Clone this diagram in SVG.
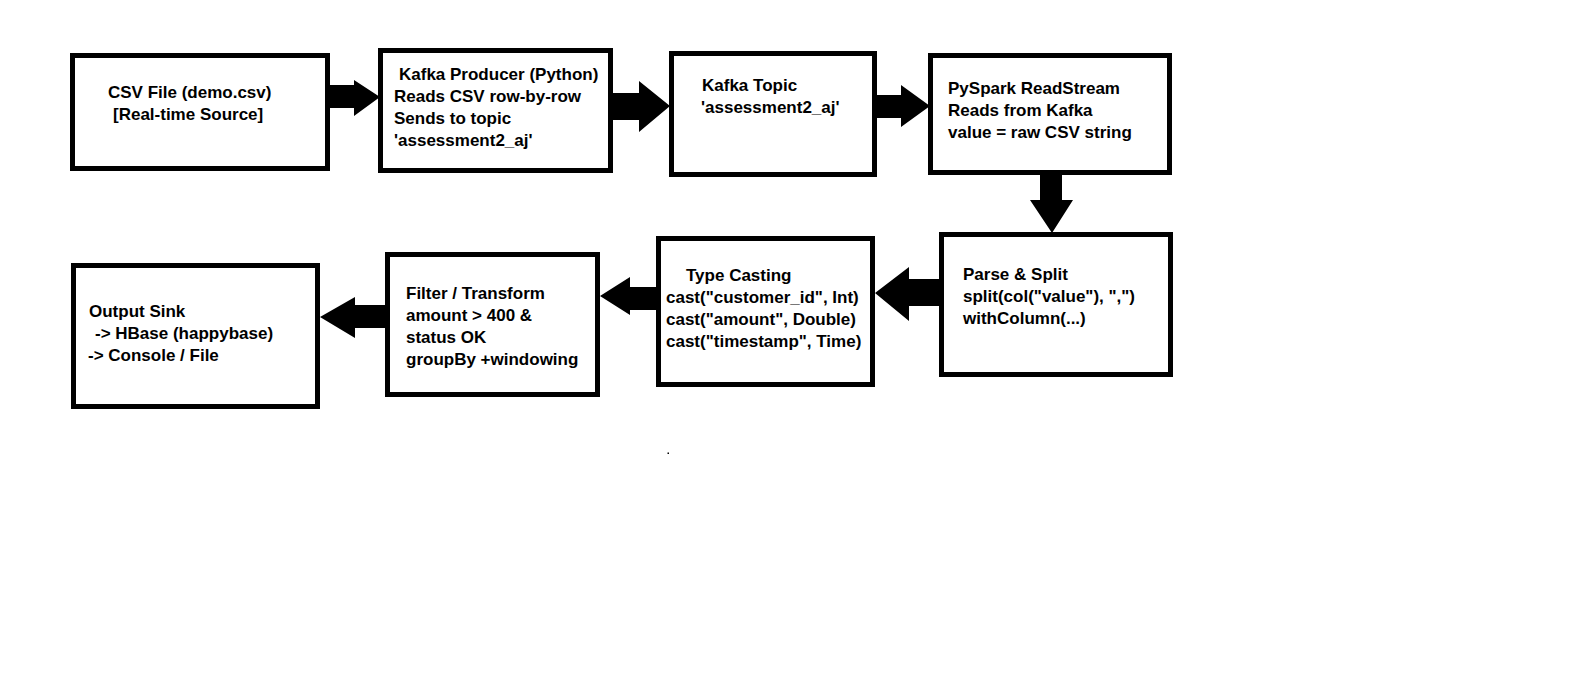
<svg xmlns="http://www.w3.org/2000/svg" width="1570" height="677" viewBox="0 0 1570 677">
<style>
.box{fill:#fff;stroke:#000;stroke-width:5}
.arr{fill:#000;stroke:none}
.t{font-family:"Liberation Sans",Arial,sans-serif;font-weight:bold;font-size:17px;fill:#000}
</style>
<rect x="0" y="0" width="1570" height="677" fill="#fff"/>
<g id="connectors">
<polygon class="arr" points="330,85 354,85 354,80 380,97 354,116 354,108 330,108"/>
<polygon class="arr" points="613,93 639,93 639,81 670,106 639,132 639,120 613,120"/>
<polygon class="arr" points="877,95 901,95 901,85 930,106 901,127 901,118 877,118"/>
<polygon class="arr" points="1040,175 1062,175 1062,200 1073,200 1052,233 1030,200 1040,200"/>
<polygon class="arr" points="939,279 909,279 909,267 875,293 909,321 909,306 939,306"/>
<polygon class="arr" points="656,287 630,287 630,277 600,296 630,315 630,310 656,310"/>
<polygon class="arr" points="385,305 355,305 355,297 320,317 355,338 355,328 385,328"/>
</g>
<g id="csv_file">
<rect class="box" x="72.5" y="55.5" width="255" height="113"/>
<text class="t" x="108" y="98">CSV File (demo.csv)</text>
<text class="t" x="113" y="120">[Real-time Source]</text>
</g>
<g id="kafka_producer">
<rect class="box" x="380.5" y="50.5" width="230" height="120"/>
<text class="t" x="399" y="80">Kafka Producer (Python)</text>
<text class="t" x="394" y="102">Reads CSV row-by-row</text>
<text class="t" x="394" y="124">Sends to topic</text>
<text class="t" x="394" y="146">'assessment2_aj'</text>
</g>
<g id="kafka_topic">
<rect class="box" x="671.5" y="53.5" width="203" height="121"/>
<text class="t" x="702" y="91">Kafka Topic</text>
<text class="t" x="701" y="113">'assessment2_aj'</text>
</g>
<g id="pyspark_readstream">
<rect class="box" x="930.5" y="55.5" width="239" height="117"/>
<text class="t" x="948" y="94">PySpark ReadStream</text>
<text class="t" x="948" y="116">Reads from Kafka</text>
<text class="t" x="948" y="138">value = raw CSV string</text>
</g>
<g id="parse_split">
<rect class="box" x="941.5" y="234.5" width="229" height="140"/>
<text class="t" x="963" y="280">Parse &amp; Split</text>
<text class="t" x="963" y="302">split(col("value"), ",")</text>
<text class="t" x="963" y="324">withColumn(...)</text>
</g>
<g id="type_casting">
<rect class="box" x="658.5" y="238.5" width="214" height="146"/>
<text class="t" x="686" y="281">Type Casting</text>
<text class="t" x="666" y="303">cast("customer_id", Int)</text>
<text class="t" x="666" y="325">cast("amount", Double)</text>
<text class="t" x="666" y="347">cast("timestamp", Time)</text>
</g>
<g id="filter_transform">
<rect class="box" x="387.5" y="254.5" width="210" height="140"/>
<text class="t" x="406" y="299">Filter / Transform</text>
<text class="t" x="406" y="321">amount &gt; 400 &amp;</text>
<text class="t" x="406" y="343">status OK</text>
<text class="t" x="406" y="365">groupBy +windowing</text>
</g>
<g id="output_sink">
<rect class="box" x="73.5" y="265.5" width="244" height="141"/>
<text class="t" x="89" y="317">Output Sink</text>
<text class="t" x="95" y="339">-&gt; HBase (happybase)</text>
<text class="t" x="88" y="361">-&gt; Console / File</text>
</g>
<rect x="667.5" y="452.5" width="1.5" height="1.5" fill="#000"/>
</svg>
